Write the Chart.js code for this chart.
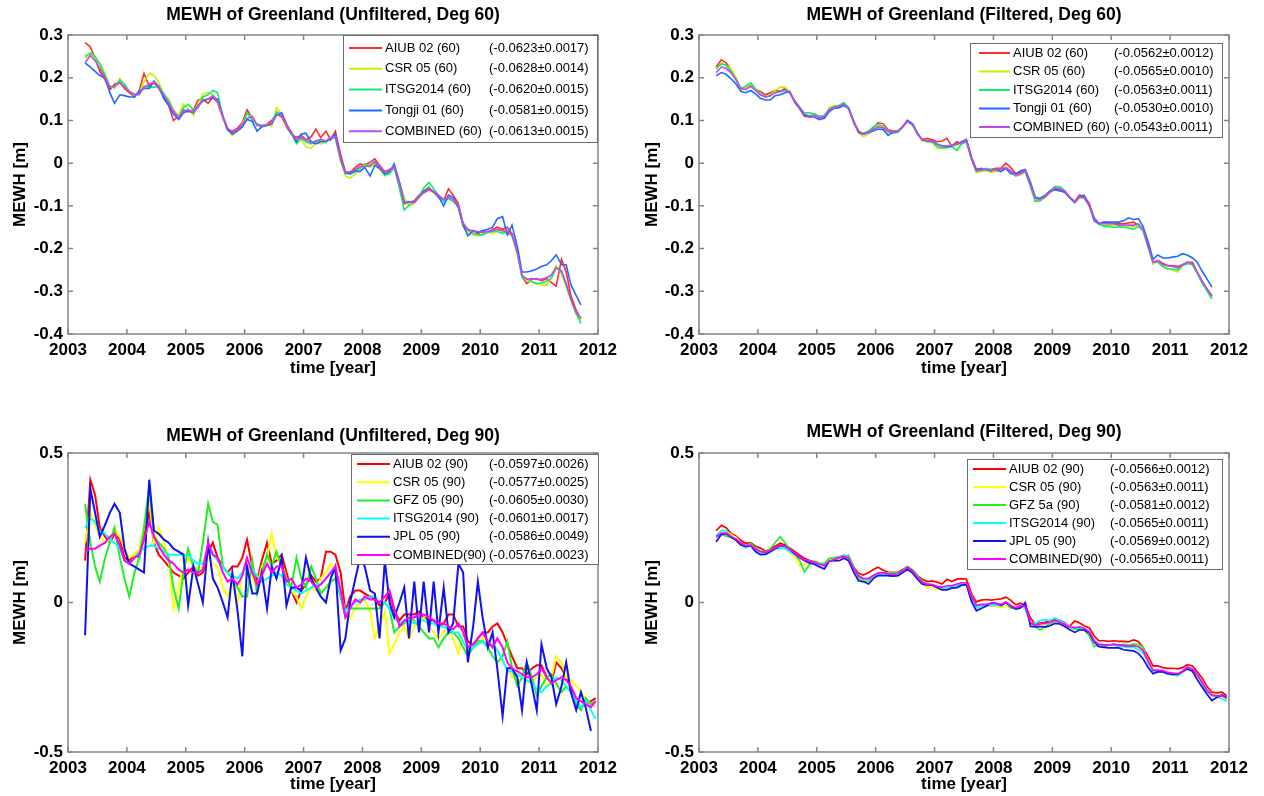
<!DOCTYPE html>
<html>
<head>
<meta charset="utf-8">
<title>MEWH of Greenland</title>
<script src="https://cdn.jsdelivr.net/npm/chart.js@4.4.1/dist/chart.umd.min.js"></script>
<style>
  body { margin: 0; background: #fff; }
  #page { position: relative; width: 1264px; height: 796px; }
  .panel { position: absolute; width: 632px; height: 398px; }
</style>
</head>
<body>
<div id="page">
  <div class="panel" style="left:0;top:0"><canvas id="unf60" width="632" height="398"></canvas></div>
  <div class="panel" style="left:632px;top:0"><canvas id="fil60" width="632" height="398"></canvas></div>
  <div class="panel" style="left:0;top:398px"><canvas id="unf90" width="632" height="398"></canvas></div>
  <div class="panel" style="left:632px;top:398px"><canvas id="fil90" width="632" height="398"></canvas></div>
</div>
<script>
// Monthly solutions, mid-month epochs in decimal years (Apr 2003 .. Dec 2011)
const epochs = [
  2003.29, 2003.38, 2003.46, 2003.54, 2003.63, 2003.71, 2003.79, 2003.88, 2003.96,
  2004.04, 2004.13, 2004.21, 2004.29, 2004.38, 2004.46, 2004.54, 2004.63, 2004.71, 2004.79, 2004.88, 2004.96,
  2005.04, 2005.13, 2005.21, 2005.29, 2005.38, 2005.46, 2005.54, 2005.63, 2005.71, 2005.79, 2005.88, 2005.96,
  2006.04, 2006.13, 2006.21, 2006.29, 2006.38, 2006.46, 2006.54, 2006.63, 2006.71, 2006.79, 2006.88, 2006.96,
  2007.04, 2007.13, 2007.21, 2007.29, 2007.38, 2007.46, 2007.54, 2007.63, 2007.71, 2007.79, 2007.88, 2007.96,
  2008.04, 2008.13, 2008.21, 2008.29, 2008.38, 2008.46, 2008.54, 2008.63, 2008.71, 2008.79, 2008.88, 2008.96,
  2009.04, 2009.13, 2009.21, 2009.29, 2009.38, 2009.46, 2009.54, 2009.63, 2009.71, 2009.79, 2009.88, 2009.96,
  2010.04, 2010.13, 2010.21, 2010.29, 2010.38, 2010.46, 2010.54, 2010.63, 2010.71, 2010.79, 2010.88, 2010.96,
  2011.04, 2011.13, 2011.21, 2011.29, 2011.38, 2011.46, 2011.54, 2011.63, 2011.71, 2011.79, 2011.88, 2011.96
];

// ---- Unfiltered, degree 60 (Apr 2003 .. Sep 2011) ----
const aiub60u = [
  0.282, 0.272, 0.245, 0.215, 0.195, 0.172, 0.185, 0.190, 0.175,
  0.165, 0.155, 0.170, 0.210, 0.180, 0.188, 0.175, 0.155, 0.135, 0.100, 0.110, 0.125,
  0.120, 0.125, 0.148, 0.150, 0.140, 0.155, 0.142, 0.105, 0.078, 0.075, 0.082, 0.095,
  0.125, 0.105, 0.090, 0.085, 0.092, 0.100, 0.115, 0.108, 0.085, 0.068, 0.060, 0.065,
  0.055, 0.062, 0.080, 0.060, 0.075, 0.055, 0.075, 0.020, -0.020, -0.022, -0.010, -0.002,
  -0.005, 0.002, 0.010, -0.005, -0.020, -0.015, -0.010, -0.055, -0.095, -0.092, -0.088, -0.075,
  -0.070, -0.062, -0.068, -0.080, -0.088, -0.060, -0.075, -0.095, -0.145, -0.158, -0.158, -0.165,
  -0.160, -0.162, -0.155, -0.150, -0.155, -0.150, -0.165, -0.205, -0.265, -0.282, -0.272, -0.270,
  -0.275, -0.270, -0.280, -0.288, -0.225, -0.255, -0.310, -0.345, -0.365
];
const csr60u = [
  0.245, 0.255, 0.245, 0.235, 0.210, 0.180, 0.175, 0.198, 0.182,
  0.170, 0.158, 0.165, 0.190, 0.210, 0.205, 0.190, 0.160, 0.150, 0.125, 0.112, 0.138,
  0.128, 0.112, 0.140, 0.162, 0.165, 0.160, 0.148, 0.105, 0.078, 0.065, 0.075, 0.092,
  0.115, 0.108, 0.092, 0.085, 0.092, 0.085, 0.130, 0.115, 0.088, 0.075, 0.048, 0.055,
  0.038, 0.035, 0.048, 0.045, 0.050, 0.058, 0.065, 0.005, -0.030, -0.035, -0.025, -0.015,
  -0.005, -0.010, 0.000, -0.015, -0.030, -0.020, -0.010, -0.045, -0.080, -0.100, -0.095, -0.080,
  -0.065, -0.055, -0.070, -0.078, -0.090, -0.085, -0.088, -0.100, -0.150, -0.162, -0.168, -0.170,
  -0.165, -0.160, -0.165, -0.158, -0.162, -0.165, -0.170, -0.215, -0.265, -0.275, -0.278, -0.282,
  -0.285, -0.286, -0.262, -0.240, -0.258, -0.290, -0.322, -0.355, -0.368
];
const itsg60u = [
  0.250, 0.258, 0.250, 0.232, 0.205, 0.180, 0.178, 0.195, 0.185,
  0.168, 0.162, 0.160, 0.180, 0.178, 0.178, 0.180, 0.162, 0.145, 0.122, 0.108, 0.130,
  0.138, 0.125, 0.130, 0.155, 0.160, 0.170, 0.165, 0.110, 0.080, 0.068, 0.075, 0.085,
  0.118, 0.100, 0.092, 0.088, 0.088, 0.095, 0.120, 0.115, 0.090, 0.070, 0.045, 0.058,
  0.050, 0.045, 0.050, 0.052, 0.048, 0.060, 0.058, 0.005, -0.025, -0.025, -0.020, -0.012,
  -0.002, -0.008, 0.005, -0.010, -0.028, -0.025, -0.010, -0.060, -0.110, -0.098, -0.090, -0.078,
  -0.058, -0.045, -0.060, -0.075, -0.090, -0.082, -0.090, -0.102, -0.145, -0.155, -0.165, -0.168,
  -0.168, -0.162, -0.160, -0.160, -0.165, -0.158, -0.170, -0.208, -0.268, -0.270, -0.278, -0.282,
  -0.280, -0.276, -0.270, -0.245, -0.255, -0.285, -0.320, -0.352, -0.375
];
const tongji60u = [
  0.235, 0.225, 0.215, 0.205, 0.200, 0.165, 0.140, 0.160, 0.158,
  0.155, 0.155, 0.168, 0.175, 0.175, 0.192, 0.180, 0.150, 0.135, 0.115, 0.102, 0.118,
  0.122, 0.118, 0.135, 0.145, 0.150, 0.152, 0.150, 0.110, 0.078, 0.068, 0.076, 0.085,
  0.102, 0.098, 0.075, 0.085, 0.088, 0.092, 0.112, 0.118, 0.092, 0.072, 0.050, 0.068,
  0.070, 0.050, 0.045, 0.050, 0.052, 0.055, 0.068, 0.012, -0.022, -0.025, -0.018, -0.020,
  -0.010, -0.030, -0.005, -0.012, -0.025, -0.020, -0.002, -0.045, -0.092, -0.090, -0.092, -0.080,
  -0.065, -0.058, -0.068, -0.078, -0.100, -0.075, -0.080, -0.105, -0.145, -0.170, -0.158, -0.162,
  -0.158, -0.155, -0.150, -0.130, -0.125, -0.168, -0.145, -0.195, -0.255, -0.255, -0.252, -0.248,
  -0.242, -0.238, -0.228, -0.215, -0.238, -0.238, -0.285, -0.310, -0.332
];
const comb60u = [
  0.235, 0.252, 0.240, 0.222, 0.200, 0.178, 0.180, 0.188, 0.178,
  0.168, 0.160, 0.162, 0.178, 0.185, 0.190, 0.178, 0.158, 0.140, 0.122, 0.106, 0.122,
  0.125, 0.118, 0.132, 0.148, 0.150, 0.158, 0.145, 0.110, 0.082, 0.072, 0.078, 0.090,
  0.105, 0.110, 0.088, 0.088, 0.090, 0.095, 0.112, 0.112, 0.090, 0.072, 0.055, 0.060,
  0.055, 0.048, 0.052, 0.056, 0.052, 0.060, 0.062, 0.010, -0.022, -0.020, -0.015, -0.008,
  -0.008, -0.005, 0.003, -0.008, -0.020, -0.018, -0.008, -0.050, -0.092, -0.092, -0.090, -0.080,
  -0.068, -0.060, -0.066, -0.075, -0.085, -0.080, -0.085, -0.100, -0.140, -0.155, -0.160, -0.160,
  -0.162, -0.160, -0.158, -0.155, -0.158, -0.160, -0.168, -0.210, -0.262, -0.272, -0.270, -0.272,
  -0.272, -0.268, -0.262, -0.245, -0.252, -0.282, -0.318, -0.350, -0.362
];
const labels60 = ['AIUB 02 (60)', 'CSR 05 (60)', 'ITSG2014 (60)', 'Tongji 01 (60)', 'COMBINED (60)'];
const trends60u = ['(-0.0623±0.0017)', '(-0.0628±0.0014)', '(-0.0620±0.0015)', '(-0.0581±0.0015)', '(-0.0613±0.0015)'];

// ---- Filtered, degree 60 ----
const aiub60f = [
  0.225, 0.242, 0.235, 0.220, 0.198, 0.172, 0.175, 0.182, 0.172,
  0.168, 0.160, 0.165, 0.170, 0.168, 0.175, 0.165, 0.142, 0.128, 0.110, 0.108, 0.115,
  0.110, 0.108, 0.128, 0.132, 0.132, 0.140, 0.130, 0.095, 0.075, 0.068, 0.075, 0.082,
  0.095, 0.092, 0.078, 0.075, 0.075, 0.085, 0.100, 0.090, 0.068, 0.055, 0.058, 0.055,
  0.050, 0.052, 0.058, 0.040, 0.050, 0.045, 0.055, 0.012, -0.015, -0.012, -0.015, -0.015,
  -0.012, -0.012, 0.000, -0.010, -0.025, -0.022, -0.018, -0.055, -0.085, -0.088, -0.080, -0.068,
  -0.062, -0.062, -0.068, -0.080, -0.090, -0.075, -0.078, -0.095, -0.130, -0.142, -0.138, -0.140,
  -0.140, -0.142, -0.142, -0.140, -0.138, -0.145, -0.155, -0.195, -0.235, -0.228, -0.235, -0.240,
  -0.240, -0.242, -0.238, -0.232, -0.232, -0.255, -0.275, -0.295, -0.310
];
const csr60f = [
  0.220, 0.235, 0.228, 0.222, 0.200, 0.172, 0.175, 0.185, 0.172,
  0.162, 0.155, 0.160, 0.170, 0.178, 0.178, 0.168, 0.145, 0.132, 0.112, 0.112, 0.115,
  0.108, 0.110, 0.130, 0.135, 0.135, 0.140, 0.128, 0.092, 0.070, 0.062, 0.068, 0.078,
  0.088, 0.085, 0.075, 0.072, 0.075, 0.088, 0.098, 0.088, 0.068, 0.052, 0.050, 0.048,
  0.035, 0.035, 0.035, 0.040, 0.042, 0.045, 0.050, 0.008, -0.022, -0.020, -0.018, -0.022,
  -0.020, -0.018, -0.012, -0.020, -0.030, -0.028, -0.020, -0.052, -0.085, -0.088, -0.080, -0.068,
  -0.060, -0.058, -0.065, -0.080, -0.092, -0.082, -0.080, -0.102, -0.130, -0.142, -0.145, -0.145,
  -0.145, -0.148, -0.150, -0.148, -0.148, -0.145, -0.158, -0.198, -0.235, -0.230, -0.242, -0.248,
  -0.250, -0.255, -0.240, -0.235, -0.238, -0.258, -0.278, -0.298, -0.315
];
const itsg60f = [
  0.222, 0.232, 0.230, 0.215, 0.195, 0.175, 0.180, 0.188, 0.175,
  0.162, 0.155, 0.158, 0.165, 0.168, 0.170, 0.165, 0.145, 0.130, 0.118, 0.118, 0.115,
  0.108, 0.112, 0.125, 0.132, 0.135, 0.142, 0.130, 0.095, 0.072, 0.070, 0.075, 0.085,
  0.092, 0.085, 0.072, 0.070, 0.072, 0.085, 0.098, 0.088, 0.068, 0.055, 0.050, 0.050,
  0.040, 0.035, 0.038, 0.038, 0.030, 0.045, 0.050, 0.008, -0.020, -0.015, -0.012, -0.015,
  -0.015, -0.015, -0.012, -0.020, -0.030, -0.025, -0.020, -0.055, -0.090, -0.088, -0.078, -0.065,
  -0.055, -0.055, -0.065, -0.080, -0.092, -0.080, -0.082, -0.100, -0.128, -0.142, -0.148, -0.148,
  -0.150, -0.150, -0.150, -0.152, -0.155, -0.148, -0.158, -0.200, -0.232, -0.232, -0.242, -0.248,
  -0.248, -0.250, -0.240, -0.235, -0.238, -0.258, -0.280, -0.300, -0.318
];
const tongji60f = [
  0.205, 0.212, 0.208, 0.198, 0.185, 0.168, 0.165, 0.170, 0.162,
  0.152, 0.148, 0.148, 0.158, 0.160, 0.165, 0.168, 0.142, 0.128, 0.112, 0.108, 0.108,
  0.102, 0.105, 0.120, 0.128, 0.130, 0.135, 0.128, 0.098, 0.072, 0.068, 0.072, 0.075,
  0.080, 0.078, 0.065, 0.072, 0.075, 0.085, 0.100, 0.092, 0.070, 0.055, 0.052, 0.052,
  0.045, 0.040, 0.038, 0.040, 0.045, 0.050, 0.055, 0.012, -0.015, -0.015, -0.015, -0.018,
  -0.015, -0.020, -0.012, -0.025, -0.025, -0.018, -0.015, -0.045, -0.080, -0.082, -0.075, -0.065,
  -0.062, -0.065, -0.068, -0.080, -0.092, -0.078, -0.075, -0.100, -0.135, -0.142, -0.138, -0.138,
  -0.138, -0.138, -0.135, -0.128, -0.132, -0.130, -0.148, -0.185, -0.225, -0.215, -0.222, -0.222,
  -0.220, -0.218, -0.212, -0.215, -0.222, -0.232, -0.252, -0.272, -0.290
];
const comb60f = [
  0.212, 0.225, 0.222, 0.212, 0.195, 0.175, 0.172, 0.180, 0.170,
  0.160, 0.155, 0.158, 0.165, 0.168, 0.172, 0.165, 0.145, 0.130, 0.115, 0.110, 0.112,
  0.105, 0.110, 0.125, 0.130, 0.133, 0.138, 0.128, 0.095, 0.075, 0.068, 0.072, 0.078,
  0.085, 0.082, 0.075, 0.072, 0.075, 0.085, 0.098, 0.090, 0.070, 0.055, 0.052, 0.052,
  0.045, 0.040, 0.040, 0.042, 0.045, 0.048, 0.052, 0.010, -0.018, -0.016, -0.015, -0.018,
  -0.015, -0.015, -0.010, -0.018, -0.028, -0.025, -0.018, -0.050, -0.082, -0.085, -0.078, -0.068,
  -0.058, -0.060, -0.065, -0.078, -0.090, -0.080, -0.080, -0.100, -0.128, -0.140, -0.142, -0.142,
  -0.142, -0.145, -0.145, -0.145, -0.145, -0.142, -0.155, -0.195, -0.232, -0.228, -0.238, -0.240,
  -0.242, -0.245, -0.238, -0.232, -0.235, -0.255, -0.275, -0.295, -0.312
];
const trends60f = ['(-0.0562±0.0012)', '(-0.0565±0.0010)', '(-0.0563±0.0011)', '(-0.0530±0.0010)', '(-0.0543±0.0011)'];

// ---- Unfiltered, degree 90 (Apr 2003 .. Dec 2011) ----
const aiub90u = [
  0.14, 0.41, 0.36, 0.25, 0.22, 0.20, 0.23, 0.21, 0.15,
  0.14, 0.16, 0.15, 0.22, 0.30, 0.20, 0.16, 0.14, 0.12, 0.10, 0.09, 0.08,
  0.10, 0.12, 0.09, 0.10, 0.17, 0.20, 0.15, 0.12, 0.10, 0.12, 0.12, 0.15,
  0.21, 0.12, 0.07, 0.14, 0.20, 0.13, 0.14, 0.16, 0.10, 0.04, 0.00, 0.04,
  0.06, 0.09, 0.07, 0.08, 0.17, 0.17, 0.16, 0.10, -0.03, 0.02, 0.04, 0.04,
  0.03, 0.02, 0.01, -0.01, 0.00, 0.03, -0.03, -0.06, -0.04, -0.04, -0.04, -0.03,
  -0.05, -0.06, -0.06, -0.08, -0.07, -0.04, -0.04, -0.08, -0.08, -0.13, -0.14, -0.12,
  -0.10, -0.10, -0.08, -0.07, -0.10, -0.14, -0.18, -0.22, -0.22, -0.24, -0.22, -0.21,
  -0.21, -0.25, -0.27, -0.20, -0.22, -0.25, -0.29, -0.33, -0.35, -0.34, -0.33, -0.32
];
const csr90u = [
  0.20, 0.30, 0.26, 0.22, 0.20, 0.21, 0.25, 0.22, 0.18,
  0.15, 0.16, 0.18, 0.25, 0.34, 0.20, 0.25, 0.20, 0.15, -0.02, 0.05, 0.12,
  0.15, 0.12, 0.11, 0.12, 0.15, 0.13, 0.12, 0.05, 0.02, 0.07, 0.00, 0.10,
  0.14, 0.08, 0.05, 0.12, 0.15, 0.23, 0.15, 0.13, 0.08, 0.04, 0.02, -0.02,
  0.02, 0.05, 0.04, 0.08, 0.10, 0.13, 0.10, 0.02, -0.03, -0.05, -0.02, 0.00,
  0.01, -0.03, -0.12, -0.08, -0.03, -0.17, -0.14, -0.10, -0.08, -0.12, -0.08, -0.06,
  -0.05, -0.08, -0.10, -0.12, -0.10, -0.08, -0.12, -0.17, -0.10, -0.15, -0.14, -0.13,
  -0.12, -0.14, -0.15, -0.16, -0.20, -0.22, -0.25, -0.24, -0.25, -0.27, -0.26, -0.25,
  -0.24, -0.28, -0.25, -0.18, -0.20, -0.25, -0.26, -0.28, -0.30, -0.32, -0.34, -0.35
];
const gfz90u = [
  0.33, 0.20, 0.12, 0.07, 0.15, 0.20, 0.25, 0.15, 0.08,
  0.02, 0.10, 0.15, 0.25, 0.39, 0.22, 0.20, 0.18, 0.15, 0.05, -0.02, 0.10,
  0.18, 0.12, 0.10, 0.20, 0.33, 0.27, 0.26, 0.12, 0.10, 0.08, 0.05, 0.02,
  0.02, 0.14, 0.03, 0.10, 0.16, 0.12, 0.17, 0.12, 0.08, 0.05, 0.15, 0.08,
  0.05, 0.12, 0.08, 0.03, 0.05, 0.07, 0.08, 0.02, -0.05, -0.02, -0.02, -0.02,
  -0.02, -0.02, -0.02, -0.02, 0.00, -0.02, -0.10, -0.08, -0.07, -0.05, -0.06, -0.08,
  -0.10, -0.12, -0.12, -0.15, -0.12, -0.10, -0.10, -0.12, -0.15, -0.18, -0.15, -0.13,
  -0.13, -0.15, -0.18, -0.20, -0.18, -0.13, -0.22, -0.28, -0.25, -0.20, -0.25, -0.31,
  -0.28, -0.25, -0.24, -0.27, -0.30, -0.28, -0.30, -0.34, -0.36, -0.32, -0.34, -0.33
];
const itsg90u = [
  0.25, 0.28, 0.27, 0.24, 0.23, 0.21, 0.20, 0.18, 0.14,
  0.13, 0.15, 0.17, 0.18, 0.19, 0.19, 0.18, 0.17, 0.16, 0.16, 0.16, 0.16,
  0.16, 0.14, 0.13, 0.13, 0.18, 0.16, 0.14, 0.12, 0.10, 0.09, 0.08, 0.10,
  0.12, 0.11, 0.09, 0.07, 0.08, 0.09, 0.10, 0.09, 0.06, 0.05, 0.04, 0.03,
  0.04, 0.05, 0.06, 0.06, 0.08, 0.10, 0.10, 0.03, -0.03, -0.01, 0.00, 0.01,
  0.01, 0.02, 0.02, 0.00, 0.00, -0.02, -0.05, -0.07, -0.06, -0.06, -0.07, -0.06,
  -0.06, -0.07, -0.07, -0.08, -0.08, -0.09, -0.10, -0.10, -0.13, -0.16, -0.15, -0.14,
  -0.13, -0.14, -0.14, -0.16, -0.19, -0.23, -0.23, -0.24, -0.25, -0.26, -0.27, -0.29,
  -0.30, -0.28, -0.27, -0.25, -0.26, -0.28, -0.30, -0.33, -0.35, -0.33, -0.36, -0.39
];
const jpl90u = [
  -0.11, 0.38, 0.30, 0.22, 0.26, 0.30, 0.33, 0.30, 0.18,
  0.13, 0.12, 0.11, 0.10, 0.41, 0.24, 0.23, 0.21, 0.20, 0.18, 0.17, 0.16,
  -0.01, 0.12, 0.06, 0.00, 0.20, 0.08, 0.05, 0.00, -0.05, 0.10, -0.03, -0.18,
  0.12, 0.03, 0.03, 0.10, -0.02, 0.12, 0.08, 0.15, -0.01, 0.05, 0.05, 0.04,
  0.15, 0.08, 0.05, 0.02, 0.00, 0.08, 0.12, -0.16, -0.12, 0.00, 0.08, 0.15,
  0.12, 0.04, 0.03, -0.12, 0.14, 0.00, -0.05, 0.00, 0.05, -0.12, 0.07, -0.10,
  0.07, -0.10, 0.07, -0.10, 0.05, -0.10, -0.07, 0.13, 0.10, -0.20, -0.08, 0.07,
  -0.05, -0.15, -0.10, -0.22, -0.38, -0.22, -0.22, -0.25, -0.36, -0.20, -0.28, -0.36,
  -0.14, -0.22, -0.25, -0.34, -0.28, -0.20, -0.30, -0.36, -0.30, -0.35, -0.43, null
];
const comb90u = [
  0.17, 0.18, 0.18, 0.19, 0.20, 0.22, 0.23, 0.19, 0.14,
  0.13, 0.15, 0.16, 0.21, 0.27, 0.22, 0.19, 0.16, 0.14, 0.13, 0.11, 0.10,
  0.11, 0.10, 0.10, 0.11, 0.20, 0.16, 0.15, 0.10, 0.07, 0.08, 0.06, 0.09,
  0.15, 0.10, 0.06, 0.09, 0.13, 0.10, 0.12, 0.12, 0.07, 0.08, 0.05, 0.06,
  0.08, 0.07, 0.05, 0.06, 0.08, 0.10, 0.12, 0.04, -0.05, -0.02, 0.01, 0.00,
  0.02, 0.01, 0.01, 0.00, 0.02, 0.04, -0.02, -0.08, -0.06, -0.05, -0.05, -0.04,
  -0.04, -0.05, -0.06, -0.07, -0.07, -0.08, -0.09, -0.07, -0.10, -0.15, -0.14, -0.12,
  -0.10, -0.13, -0.15, -0.12, -0.15, -0.20, -0.22, -0.23, -0.24, -0.25, -0.25, -0.24,
  -0.22, -0.25, -0.27, -0.26, -0.25, -0.26, -0.28, -0.32, -0.33, -0.34, -0.35, -0.33
];
const labels90u = ['AIUB 02 (90)', 'CSR 05 (90)', 'GFZ 05 (90)', 'ITSG2014 (90)', 'JPL 05 (90)', 'COMBINED(90)'];
const trends90u = ['(-0.0597±0.0026)', '(-0.0577±0.0025)', '(-0.0605±0.0030)', '(-0.0601±0.0017)', '(-0.0586±0.0049)', '(-0.0576±0.0023)'];

// ---- Filtered, degree 90 ----
const aiub90f = [
  0.240, 0.258, 0.250, 0.232, 0.222, 0.208, 0.198, 0.200, 0.188,
  0.182, 0.172, 0.178, 0.188, 0.198, 0.192, 0.182, 0.170, 0.158, 0.148, 0.140, 0.136,
  0.130, 0.128, 0.140, 0.148, 0.152, 0.158, 0.150, 0.118, 0.098, 0.092, 0.100, 0.110,
  0.118, 0.108, 0.102, 0.100, 0.102, 0.110, 0.120, 0.108, 0.090, 0.078, 0.070, 0.072,
  0.068, 0.062, 0.078, 0.070, 0.078, 0.080, 0.078, 0.028, 0.002, 0.008, 0.010, 0.008,
  0.010, 0.012, 0.018, 0.008, -0.008, -0.002, -0.010, -0.052, -0.072, -0.068, -0.066, -0.060,
  -0.058, -0.060, -0.068, -0.080, -0.062, -0.068, -0.078, -0.085, -0.112, -0.128, -0.128, -0.130,
  -0.128, -0.130, -0.130, -0.132, -0.125, -0.130, -0.150, -0.182, -0.212, -0.212, -0.218, -0.220,
  -0.220, -0.222, -0.218, -0.208, -0.212, -0.232, -0.252, -0.282, -0.300, -0.302, -0.300, -0.312
];
const csr90f = [
  0.222, 0.240, 0.238, 0.228, 0.218, 0.200, 0.190, 0.192, 0.178,
  0.170, 0.168, 0.172, 0.180, 0.188, 0.180, 0.168, 0.150, 0.122, 0.128, 0.130, 0.132,
  0.130, 0.128, 0.140, 0.148, 0.150, 0.152, 0.142, 0.108, 0.082, 0.072, 0.080, 0.090,
  0.098, 0.098, 0.095, 0.092, 0.092, 0.105, 0.118, 0.100, 0.078, 0.060, 0.052, 0.050,
  0.042, 0.048, 0.050, 0.052, 0.058, 0.060, 0.062, 0.018, -0.012, -0.010, -0.012, -0.010,
  -0.012, -0.018, -0.010, -0.018, -0.022, -0.012, -0.020, -0.068, -0.078, -0.072, -0.075, -0.070,
  -0.068, -0.070, -0.072, -0.080, -0.090, -0.088, -0.092, -0.100, -0.130, -0.142, -0.148, -0.142,
  -0.142, -0.142, -0.145, -0.148, -0.142, -0.148, -0.152, -0.198, -0.228, -0.230, -0.232, -0.238,
  -0.240, -0.242, -0.232, -0.220, -0.228, -0.248, -0.268, -0.292, -0.308, -0.310, -0.312, -0.320
];
const gfz90f = [
  0.218, 0.228, 0.222, 0.218, 0.210, 0.198, 0.190, 0.198, 0.182,
  0.172, 0.170, 0.180, 0.200, 0.220, 0.200, 0.180, 0.160, 0.140, 0.102, 0.128, 0.138,
  0.132, 0.130, 0.148, 0.150, 0.152, 0.150, 0.158, 0.118, 0.082, 0.070, 0.072, 0.088,
  0.090, 0.098, 0.100, 0.098, 0.100, 0.108, 0.120, 0.108, 0.090, 0.070, 0.062, 0.060,
  0.052, 0.050, 0.050, 0.052, 0.058, 0.060, 0.060, 0.020, -0.010, -0.008, -0.010, -0.010,
  -0.010, -0.008, 0.000, -0.018, -0.020, -0.010, -0.020, -0.070, -0.080, -0.092, -0.080, -0.070,
  -0.060, -0.068, -0.078, -0.082, -0.090, -0.088, -0.092, -0.112, -0.148, -0.142, -0.148, -0.142,
  -0.140, -0.142, -0.140, -0.142, -0.138, -0.140, -0.150, -0.202, -0.230, -0.230, -0.232, -0.240,
  -0.242, -0.245, -0.232, -0.220, -0.222, -0.242, -0.270, -0.298, -0.310, -0.312, -0.310, -0.322
];
const itsg90f = [
  0.222, 0.242, 0.240, 0.222, 0.210, 0.198, 0.182, 0.190, 0.172,
  0.162, 0.160, 0.170, 0.178, 0.182, 0.180, 0.170, 0.160, 0.150, 0.142, 0.138, 0.132,
  0.128, 0.122, 0.138, 0.142, 0.150, 0.158, 0.148, 0.112, 0.090, 0.080, 0.080, 0.090,
  0.092, 0.098, 0.090, 0.088, 0.090, 0.100, 0.110, 0.098, 0.080, 0.062, 0.058, 0.058,
  0.052, 0.050, 0.050, 0.050, 0.058, 0.060, 0.060, 0.012, -0.018, -0.012, -0.010, -0.010,
  -0.010, -0.010, 0.000, -0.010, -0.020, -0.012, -0.020, -0.068, -0.070, -0.060, -0.058, -0.060,
  -0.052, -0.060, -0.070, -0.080, -0.088, -0.082, -0.088, -0.100, -0.130, -0.140, -0.142, -0.142,
  -0.142, -0.148, -0.148, -0.150, -0.150, -0.158, -0.168, -0.200, -0.228, -0.230, -0.232, -0.240,
  -0.240, -0.242, -0.232, -0.220, -0.222, -0.240, -0.270, -0.298, -0.312, -0.315, -0.322, -0.330
];
const jpl90f = [
  0.202, 0.228, 0.230, 0.220, 0.208, 0.192, 0.188, 0.190, 0.170,
  0.160, 0.162, 0.170, 0.180, 0.190, 0.188, 0.178, 0.162, 0.150, 0.140, 0.132, 0.128,
  0.120, 0.112, 0.138, 0.140, 0.140, 0.148, 0.140, 0.100, 0.072, 0.070, 0.062, 0.080,
  0.090, 0.090, 0.090, 0.088, 0.090, 0.100, 0.112, 0.098, 0.078, 0.062, 0.058, 0.058,
  0.050, 0.042, 0.042, 0.048, 0.050, 0.058, 0.060, 0.002, -0.028, -0.020, -0.012, -0.002,
  -0.002, -0.010, 0.000, -0.012, -0.022, -0.018, 0.000, -0.080, -0.082, -0.080, -0.082, -0.078,
  -0.070, -0.072, -0.080, -0.090, -0.100, -0.092, -0.092, -0.102, -0.132, -0.148, -0.150, -0.152,
  -0.152, -0.152, -0.158, -0.160, -0.162, -0.170, -0.188, -0.218, -0.238, -0.232, -0.232, -0.238,
  -0.240, -0.240, -0.232, -0.222, -0.230, -0.258, -0.282, -0.308, -0.328, -0.318, -0.310, -0.318
];
const comb90f = [
  0.220, 0.232, 0.232, 0.222, 0.212, 0.200, 0.190, 0.192, 0.178,
  0.170, 0.168, 0.174, 0.182, 0.192, 0.188, 0.178, 0.165, 0.152, 0.142, 0.138, 0.134,
  0.128, 0.124, 0.138, 0.144, 0.150, 0.154, 0.148, 0.112, 0.088, 0.080, 0.080, 0.090,
  0.098, 0.100, 0.096, 0.094, 0.096, 0.106, 0.118, 0.104, 0.084, 0.068, 0.060, 0.060,
  0.054, 0.052, 0.056, 0.056, 0.062, 0.066, 0.066, 0.018, -0.010, -0.006, -0.006, -0.004,
  -0.004, -0.006, 0.002, -0.010, -0.018, -0.010, -0.014, -0.066, -0.076, -0.072, -0.070, -0.066,
  -0.060, -0.066, -0.074, -0.082, -0.084, -0.082, -0.086, -0.098, -0.128, -0.140, -0.142, -0.142,
  -0.140, -0.142, -0.144, -0.146, -0.144, -0.148, -0.160, -0.198, -0.226, -0.226, -0.228, -0.234,
  -0.236, -0.238, -0.230, -0.216, -0.222, -0.242, -0.266, -0.294, -0.310, -0.312, -0.312, -0.320
];
const labels90f = ['AIUB 02 (90)', 'CSR 05 (90)', 'GFZ 5a (90)', 'ITSG2014 (90)', 'JPL 05 (90)', 'COMBINED(90)'];
const trends90f = ['(-0.0566±0.0012)', '(-0.0563±0.0011)', '(-0.0581±0.0012)', '(-0.0565±0.0011)', '(-0.0569±0.0012)', '(-0.0565±0.0011)'];

const colors60 = ['#ff2a2a', '#c8f000', '#10ee6a', '#1f6bff', '#c448f2'];
const colors90 = ['#ff0000', '#ffff00', '#22ee22', '#00ffff', '#1010f0', '#ff00ff'];

const FONT = "'Liberation Sans', Arial, Helvetica, sans-serif";
Chart.defaults.font.family = FONT;
Chart.defaults.color = '#000';

// Matlab-style axes box with inward tick marks on all four sides
const axesBox = {
  id: 'axesBox',
  afterDatasetsDraw(chart) {
    const { ctx, chartArea: a, scales } = chart;
    const len = 5;
    ctx.save();
    ctx.strokeStyle = '#858585';
    ctx.lineWidth = 1.5;
    ctx.beginPath();
    scales.x.ticks.forEach(t => {
      const px = scales.x.getPixelForValue(t.value);
      ctx.moveTo(px, a.bottom); ctx.lineTo(px, a.bottom - len);
      ctx.moveTo(px, a.top); ctx.lineTo(px, a.top + len);
    });
    scales.y.ticks.forEach(t => {
      const py = scales.y.getPixelForValue(t.value);
      ctx.moveTo(a.left, py); ctx.lineTo(a.left + len, py);
      ctx.moveTo(a.right, py); ctx.lineTo(a.right - len, py);
    });
    ctx.stroke();
    ctx.strokeRect(a.left, a.top, a.right - a.left, a.bottom - a.top);
    ctx.restore();
  }
};

// Boxed legend: line sample, series name and trend value per row
const trendLegend = {
  id: 'trendLegend',
  afterDraw(chart, args, opts) {
    const ctx = chart.ctx;
    ctx.save();
    ctx.fillStyle = '#fff';
    ctx.fillRect(opts.left, opts.top, opts.right - opts.left, opts.bottom - opts.top);
    ctx.strokeStyle = '#6a6a6a';
    ctx.lineWidth = 1;
    ctx.strokeRect(opts.left + 0.5, opts.top + 0.5, opts.right - opts.left, opts.bottom - opts.top);
    ctx.font = '13px ' + FONT;
    ctx.textBaseline = 'middle';
    chart.data.datasets.forEach((ds, i) => {
      const y = opts.firstRow + i * opts.rowStep;
      ctx.strokeStyle = ds.borderColor;
      ctx.lineWidth = 2;
      ctx.beginPath();
      ctx.moveTo(opts.lineFrom, y);
      ctx.lineTo(opts.lineTo, y);
      ctx.stroke();
      ctx.fillStyle = '#000';
      ctx.fillText(ds.label, opts.textX, y);
      ctx.fillText(opts.trends[i], opts.valueX, y);
    });
    ctx.restore();
  }
};

function buildPanel(id, p) {
  const n = p.series.length;
  const datasets = p.series.map((values, i) => ({
    label: p.labels[i],
    data: values.map((v, k) => ({ x: epochs[k], y: v })),
    borderColor: p.colors[i],
    borderWidth: p.lineWidth,
    pointRadius: 0,
    tension: 0,
    order: n - i
  }));

  return new Chart(document.getElementById(id), {
    type: 'line',
    data: { datasets },
    options: {
      responsive: false,
      animation: false,
      layout: { padding: { left: 0, right: p.padRight, top: 0, bottom: 0 } },
      plugins: {
        legend: { display: false },
        tooltip: { enabled: false },
        title: {
          display: true,
          text: p.title,
          fullSize: false,
          color: '#000',
          font: { size: 17.5, weight: 'bold' },
          padding: { top: p.titleTop, bottom: p.titleBottom }
        },
        trendLegend: p.legend
      },
      scales: {
        x: {
          type: 'linear',
          min: 2003,
          max: 2012,
          grid: { display: false, drawTicks: false },
          border: { display: false },
          ticks: {
            stepSize: 1,
            padding: 6,
            maxRotation: 0,
            autoSkip: false,
            color: '#000',
            font: { size: 17, weight: 'bold' },
            callback: v => String(v)
          },
          title: {
            display: true,
            text: 'time [year]',
            color: '#000',
            font: { size: 17, weight: 'bold' },
            padding: { top: 0, bottom: p.xTitleBottom }
          },
          afterFit: s => { s.height = p.xAxisHeight; }
        },
        y: {
          type: 'linear',
          min: p.yMin,
          max: p.yMax,
          grid: { display: false, drawTicks: false },
          border: { display: false },
          ticks: {
            stepSize: p.yStep,
            padding: 5,
            color: '#000',
            font: { size: 17, weight: 'bold' },
            callback: v => String(Number(v.toFixed(1)))
          },
          title: {
            display: true,
            text: 'MEWH [m]',
            color: '#000',
            font: { size: 17, weight: 'bold' },
            padding: { top: 10, bottom: 0 }
          },
          afterFit: s => { s.width = p.yAxisWidth; }
        }
      }
    },
    plugins: [axesBox, trendLegend]
  });
}

buildPanel('unf60', {
  title: 'MEWH of Greenland (Unfiltered, Deg 60)',
  series: [aiub60u, csr60u, itsg60u, tongji60u, comb60u],
  labels: labels60, colors: colors60, lineWidth: 1.6,
  yMin: -0.4, yMax: 0.3, yStep: 0.1,
  titleTop: 4.5, titleBottom: 9.5, xAxisHeight: 64, xTitleBottom: 19,
  yAxisWidth: 68, padRight: 34,
  legend: { left: 343, top: 35, right: 597, bottom: 142, firstRow: 48, rowStep: 20.8,
            lineFrom: 349, lineTo: 382, textX: 385, valueX: 489, trends: trends60u }
});

buildPanel('fil60', {
  title: 'MEWH of Greenland (Filtered, Deg 60)',
  series: [aiub60f, csr60f, itsg60f, tongji60f, comb60f],
  labels: labels60, colors: colors60, lineWidth: 1.6,
  yMin: -0.4, yMax: 0.3, yStep: 0.1,
  titleTop: 4.5, titleBottom: 9.5, xAxisHeight: 64, xTitleBottom: 19,
  yAxisWidth: 67, padRight: 35,
  legend: { left: 338, top: 43, right: 590, bottom: 137, firstRow: 53, rowStep: 18.5,
            lineFrom: 347, lineTo: 378, textX: 381, valueX: 482, trends: trends60f }
});

buildPanel('unf90', {
  title: 'MEWH of Greenland (Unfiltered, Deg 90)',
  series: [aiub90u, csr90u, gfz90u, itsg90u, jpl90u, comb90u],
  labels: labels90u, colors: colors90, lineWidth: 2,
  yMin: -0.5, yMax: 0.5, yStep: 0.5,
  titleTop: 27.5, titleBottom: 6.5, xAxisHeight: 44, xTitleBottom: 1,
  yAxisWidth: 68, padRight: 34,
  legend: { left: 351, top: 56, right: 598, bottom: 166, firstRow: 66, rowStep: 18.2,
            lineFrom: 357, lineTo: 390, textX: 393, valueX: 489, trends: trends90u }
});

buildPanel('fil90', {
  title: 'MEWH of Greenland (Filtered, Deg 90)',
  series: [aiub90f, csr90f, gfz90f, itsg90f, jpl90f, comb90f],
  labels: labels90f, colors: colors90, lineWidth: 1.7,
  yMin: -0.5, yMax: 0.5, yStep: 0.5,
  titleTop: 23.5, titleBottom: 10.5, xAxisHeight: 44, xTitleBottom: 1,
  yAxisWidth: 67, padRight: 35,
  legend: { left: 335, top: 61, right: 590, bottom: 171, firstRow: 71, rowStep: 18,
            lineFrom: 341, lineTo: 374, textX: 377, valueX: 478, trends: trends90f }
});
</script>
</body>
</html>
